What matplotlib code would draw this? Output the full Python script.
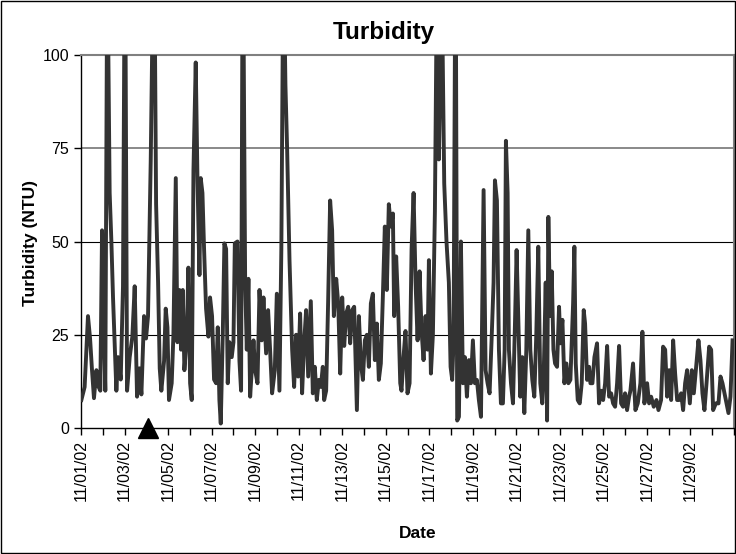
import matplotlib
matplotlib.use('Agg')
import matplotlib.pyplot as plt
import matplotlib.dates as mdates
from matplotlib.ticker import FuncFormatter
from matplotlib.patches import Rectangle
from datetime import datetime, timedelta

# Hours since 11/01/02 00:00 and turbidity (NTU)
hours = [0.4, 4, 7.7, 10, 12, 14.3, 17, 19.5, 21.3, 23.2, 25.4, 26.8, 29, 31.6, 33.5,
         35.3, 37.1, 39, 40.8, 43.8, 46.3, 48.5, 50.8, 53.7, 56.6, 59.2, 61.8, 64.4,
         66.6, 69.5, 71.7, 73.9, 76.9, 80.5, 82.8, 85, 86.8, 88.6, 91.6, 93.4, 95.3,
         97, 100, 101.9, 104.5, 106.3, 108.5, 110.3, 112.2, 114, 116.6, 118.4, 120.3,
         122.1, 124, 126.5, 128.4, 130.6, 132, 133.9, 135.7, 137.9, 140.5, 142.3,
         144.5, 146.7, 149, 150.8, 152.6, 154.1, 156.3, 158.1, 160, 161.8, 163.7,
         166.2, 168.1, 169.6, 172.5, 174.7, 176.5, 178.4, 181, 182.8, 184.6, 186.5,
         188.3, 190.2, 192, 194.6, 196.8, 199.3, 201.2, 204.1, 206.3, 208.5, 210.7,
         213.7, 215.9, 218.8, 220.9, 223.2, 225.4, 227.3, 229.9, 232.8, 235, 237.2,
         239.4, 241.6, 243.8, 246, 248.2, 250.5, 253.4, 255.6, 257.8, 260, 262.2,
         264.4, 266.6, 268.1, 270.3, 272.5, 274.7, 276.9, 278.8, 281.4, 283.6, 285.8,
         288, 290.2, 292.4, 294.6, 296.8, 299, 301.2, 304.2, 306.4, 308.6, 310.8, 313,
         315.2, 317.4, 319.6, 321.8, 324, 326.2, 328.4, 330.6, 332.8, 335, 337.2,
         339.4, 341.7, 343.9, 345.3, 347.5, 349.7, 352, 353.4, 355.6, 357.8, 360,
         362.3, 364.5, 366.7, 368.9, 371.1, 373.3, 375.5, 377.7, 379.9, 382.1, 383.6,
         385.8, 388, 390.2, 392.4, 394.6, 396.1, 398.3, 400.5, 403, 405.6, 407.5,
         409.3, 410.8, 413, 414.8, 416.7, 418.9, 421.1, 423.3, 425.5, 427.7, 429.9,
         432.1, 434.3, 436.5, 438.7, 441, 443.9, 446.1, 448.3, 450.5, 452.7, 454.9,
         456.4, 458.6, 460.8, 463, 465.2, 467.1, 468.5, 470.4, 471.8, 474.1, 476.3,
         478.5, 480.3, 482.1, 484.3, 486.6, 488.8, 491, 493.2, 495.4, 497.6, 499.8,
         502, 504.2, 506.4, 508.6, 510.2, 512.4, 513.9, 515.3, 517.2, 519, 520.9,
         522.7, 524.9, 527.1, 528.6, 530.8, 533, 535.2, 537.4, 539.6, 542.6, 544,
         545.5, 547.7, 549.9, 552.1, 554.3, 555.8, 558, 560.2, 561.7, 563.9, 566.1,
         569, 571.2, 573.4, 575.7, 577.9, 580.1, 582.3, 584.5, 586.7, 588.9, 591.1,
         593.3, 595.5, 597.7, 599.9, 602.1, 604.3, 605.8, 608.7, 611.3, 613.9, 616.8,
         619, 621.2, 624.2, 626.4, 628.6, 631.5, 634.5, 636.7, 639.6, 641.8, 644.1,
         646.3, 648.5, 650.7, 652.9, 655.1, 657.3, 659.5, 661.7, 663.9, 666.1, 668.3,
         671.3, 673.5, 675.7, 677.9, 680.8, 683, 685.2, 687.4, 689.7, 692.6, 694.8,
         697, 700, 702.9, 705.1, 707.3, 709.5, 711.7, 713.9, 716.1, 718.4]
ntu = [7.5, 11, 30, 24, 16, 8, 15.5, 11, 10, 53, 25, 10, 130, 63, 50,
       35, 23, 10, 19, 13, 38, 140, 10, 19, 24.5, 38, 8.4, 16,
       9, 30, 24, 30, 72, 140, 60, 39, 16, 10, 18, 32, 27,
       7.5, 12, 25, 67, 23, 37, 21, 37, 15.5, 24.5, 43, 12,
       7.5, 69, 98, 67, 41, 67, 63, 48, 32, 24.5, 35,
       30, 13, 12, 27, 7.5, 1.2, 25, 49.5, 48, 12, 23,
       19, 23, 49.5, 50, 18, 10, 140, 39, 21, 40, 8.4,
       15.5, 23.5, 15.5, 12, 37, 23.5, 35, 20, 31.6, 21, 9.3,
       15.5, 36, 10, 48, 130, 92, 74.5, 45, 21, 11, 25,
       13.8, 30.7, 9.3, 22.7, 31.6, 13.8, 34, 9.3, 16.4, 7.5, 12.9,
       11, 16.4, 7.5, 10, 34, 61, 53, 30, 40, 33.4, 14.6,
       35, 22, 30.7, 32.5, 22.7, 31.6, 32.5, 4.8, 30, 17.3, 12.9, 23.5,
       25, 16.4, 33.4, 36, 18.2, 28, 12.9, 17.3, 35, 54, 37,
       60, 54, 57.5, 30, 46, 32.5, 12, 10, 19, 26, 9.3,
       12, 48, 63, 39, 23.5, 42, 26, 18.2, 30, 21, 45,
       14.6, 25, 58, 120, 72, 95, 110, 65.5, 50, 39, 16.4,
       12.9, 23.5, 140, 2, 3, 50, 12, 19, 8.4, 18.2, 12,
       23.5, 12, 12.9, 7.5, 3, 63.8, 15.5, 12, 9.3, 23.5, 39,
       66.4, 61, 21, 6.6, 6.6, 21, 77, 63, 21, 12, 6.6,
       28, 47.7, 30, 8.4, 19, 4, 21, 53, 21, 12.9, 8.4,
       25, 48.6, 12, 6.6, 14.6, 39, 2, 56.6, 30, 42, 21,
       17.3, 16.4, 32.5, 22.7, 29, 12, 17.3, 12, 12.9, 33.4, 48.6,
       17.3, 7.5, 6.6, 12, 31.6, 28, 12.9, 16.4, 12, 12, 19,
       22.7, 6.6, 10, 7.5, 12, 22, 8.4, 9.3, 6.6, 5.7, 12,
       22, 6.6, 5.7, 9.3, 4.8, 8.4, 10, 17.3, 4.8, 6.6, 12,
       25.8, 6.6, 12, 6.6, 8.4, 5.7, 7.5, 4.8, 7.5, 21.8, 21,
       8.4, 15.5, 7.5, 23.5, 14.6, 7.5, 7.5, 9.3, 4.8, 12, 15.5,
       6.6, 15.5, 9.3, 15.5, 23.5, 18.2, 9.3, 4.8, 12, 21.8, 21,
       4.8, 6.6, 6.6, 13.8, 12, 9.3, 6.6, 4, 8.4, 23.5]
marker_hour = 74  # event marker on the date axis

start = datetime(2002, 11, 1)
times = [start + timedelta(hours=h) for h in hours]

plt.rcParams['font.family'] = ['Liberation Sans', 'DejaVu Sans']
fig = plt.figure(figsize=(7.36, 5.54), dpi=100)
ax = fig.add_axes([81 / 736, 1 - 428 / 554, (734 - 81) / 736, (428 - 55) / 554])

ax.axhline(25, color='black', lw=0.8, zorder=1)
ax.axhline(50, color='black', lw=0.8, zorder=1)
ax.axhline(75, color='#808080', lw=1.3, zorder=1)

ax.plot(times, ntu, color='#333333', lw=2.8, solid_joinstyle='round', zorder=3)
ax.plot([start + timedelta(hours=marker_hour)], [0], marker='^', color='black',
        markersize=15, clip_on=False, zorder=5, linestyle='none')

ax.set_xlim(start, start + timedelta(days=30))
ax.set_ylim(0, 100)
ax.set_yticks([0, 25, 50, 75, 100])

ax.xaxis.set_major_locator(mdates.DayLocator())

def fmt(x, pos):
    d = mdates.num2date(x)
    if d.month == 11 and d.day % 2 == 1:
        return d.strftime('%m/%d/%y')
    return ''

ax.xaxis.set_major_formatter(FuncFormatter(fmt))
ax.tick_params(axis='both', direction='out', length=5, width=1, colors='black',
               labelsize=11.5)
ax.tick_params(axis='x', labelrotation=90)

for s in ['left', 'bottom']:
    ax.spines[s].set_color('black')
    ax.spines[s].set_linewidth(1)
for s in ['top', 'right']:
    ax.spines[s].set_color('#808080')
    ax.spines[s].set_linewidth(1.5)

fig.text(0.522, 1 - 33 / 554, 'Turbidity', ha='center', va='center', fontsize=17.5,
         fontweight='bold')
fig.text(30 / 736, 1 - 243 / 554, 'Turbidity (NTU)', ha='center', va='center',
         rotation=90, fontsize=12.5, fontweight='bold')
fig.text(418 / 736, 1 - 534 / 554, 'Date', ha='center', va='center', fontsize=12.5,
         fontweight='bold')

fig.add_artist(Rectangle((0.001, 0.001), 0.998, 0.998, transform=fig.transFigure,
                         fill=False, edgecolor='black', lw=1))

fig.savefig('out.png', dpi=100)
